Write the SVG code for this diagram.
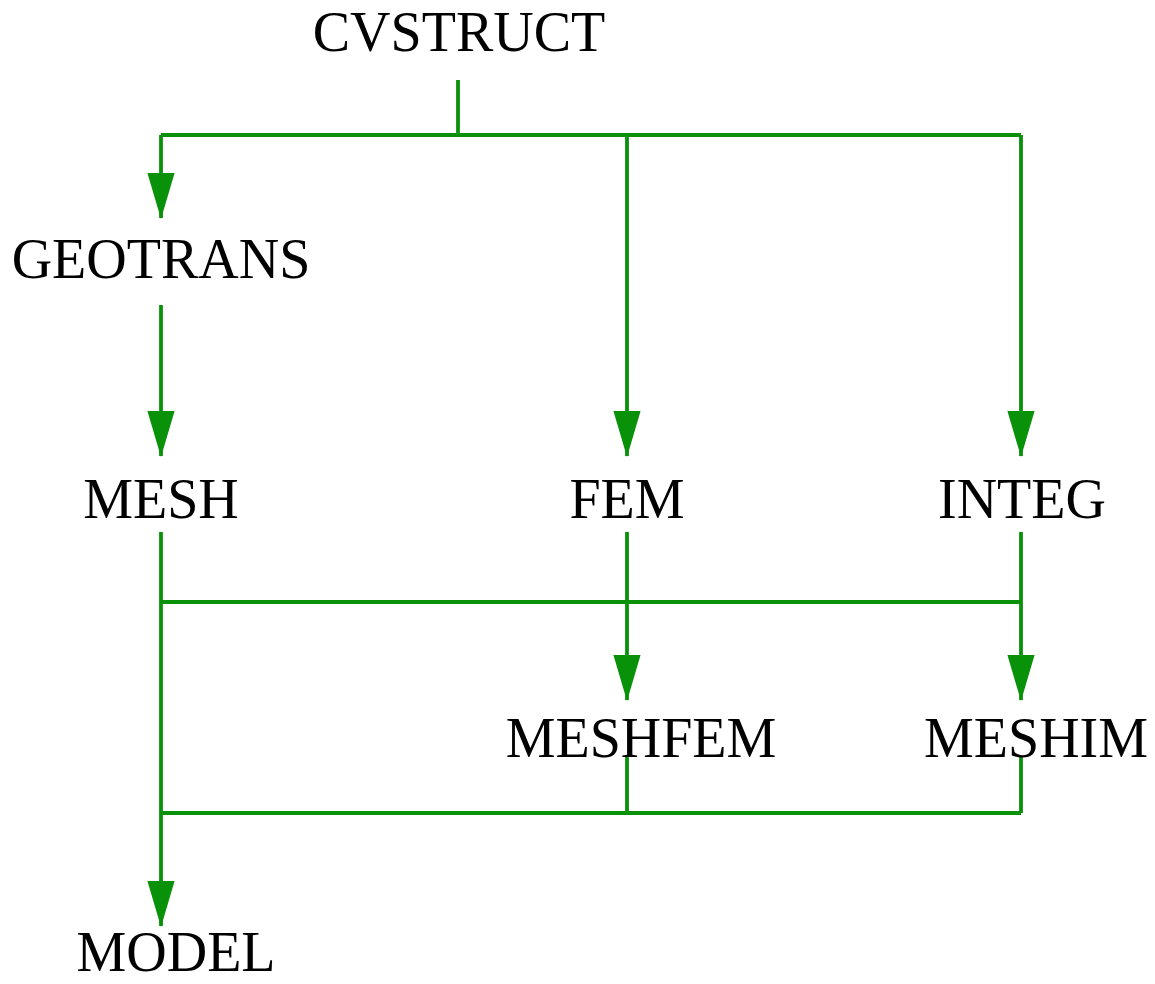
<svg xmlns="http://www.w3.org/2000/svg" width="1155" height="984" viewBox="0 0 1155 984">
<style>
.n{font-family:"Liberation Serif","Times New Roman",serif;font-size:56px;fill:#000;text-anchor:middle}
.c{stroke:#0a910a;stroke-width:3.8;fill:none}
.a{fill:#0a910a}
</style>
<defs>
<marker id="ah" markerUnits="userSpaceOnUse" markerWidth="46" markerHeight="28" refX="43" refY="13" orient="auto" viewBox="0 0 44 26">
<path d="M0,0 L44,13 L0,26 Z" class="a"/>
</marker>
</defs>
<rect width="1155" height="984" fill="#fff"/>
<g id="connectors">
<path class="c" d="M458,80 V135"/>
<path class="c" d="M161,135 H1021"/>
<path class="c" d="M161,135 V218" marker-end="url(#ah)"/>
<path class="c" d="M627,135 V456" marker-end="url(#ah)"/>
<path class="c" d="M1021,135 V456" marker-end="url(#ah)"/>
<path class="c" d="M161,305 V456" marker-end="url(#ah)"/>
<path class="c" d="M161,532 V926" marker-end="url(#ah)"/>
<path class="c" d="M161,602 H1021"/>
<path class="c" d="M627,532 V700" marker-end="url(#ah)"/>
<path class="c" d="M1021,532 V700" marker-end="url(#ah)"/>
<path class="c" d="M627,757 V813"/>
<path class="c" d="M1021,757 V813"/>
<path class="c" d="M161,813 H1021"/>
</g>
<g id="CVSTRUCT"><text class="n" x="459" y="51">CVSTRUCT</text></g>
<g id="GEOTRANS"><text class="n" x="161" y="278">GEOTRANS</text></g>
<g id="MESH"><text class="n" x="161" y="518">MESH</text></g>
<g id="FEM"><text class="n" x="627" y="518">FEM</text></g>
<g id="INTEG"><text class="n" x="1022" y="518">INTEG</text></g>
<g id="MESHFEM"><text class="n" x="641" y="757">MESHFEM</text></g>
<g id="MESHIM"><text class="n" x="1036" y="757">MESHIM</text></g>
<g id="MODEL"><text class="n" x="176" y="971">MODEL</text></g>
</svg>
